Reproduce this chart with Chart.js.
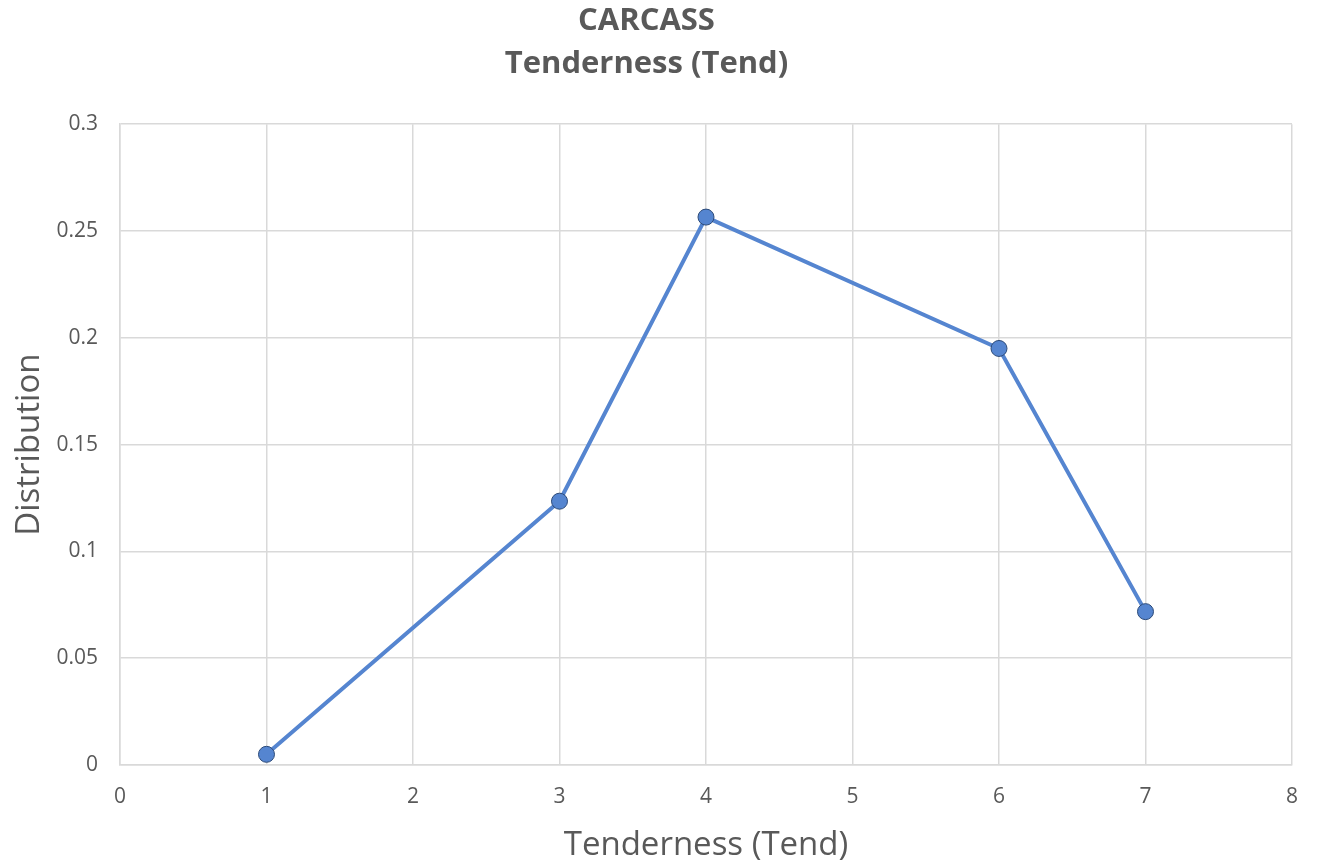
<!DOCTYPE html>
<html>
<head>
<meta charset="utf-8">
<title>CARCASS Tenderness (Tend)</title>
<script src="https://cdn.jsdelivr.net/npm/chart.js@4"></script>
<style>
  html, body { margin: 0; padding: 0; background: #ffffff; }
  #wrap { width: 1317px; height: 862px; position: relative; }
</style>
</head>
<body>
<div id="wrap"><canvas id="chart"></canvas></div>
<script>
// Tenderness score and its share of carcasses
const tenderScores = [1, 3, 4, 6, 7];
const distribution = [0.005, 0.1235, 0.2565, 0.195, 0.0718];

// Axis tick labels
const xTickLabels = ['0', '1', '2', '3', '4', '5', '6', '7', '8'];
const yTickLabels = ['0', '0.05', '0.1', '0.15', '0.2', '0.25', '0.3'];

const titleLines = ['CARCASS', 'Tenderness (Tend)'];
const xAxisTitle = 'Tenderness (Tend)';
const yAxisTitle = 'Distribution';

const points = tenderScores.map((x, i) => ({ x: x, y: distribution[i] }));

const textGray = '#595959';
const gridGray = '#d9d9d9';
const fontFamily = '"Open Sans", "Noto Sans", sans-serif';

new Chart(document.getElementById('chart'), {
  type: 'scatter',
  data: {
    datasets: [{
      data: points,
      showLine: true,
      borderColor: '#5585d0',
      borderWidth: 4,
      pointRadius: 8,
      pointHoverRadius: 8,
      pointBackgroundColor: '#5585d0',
      pointBorderColor: '#2c4a78',
      pointBorderWidth: 1
    }]
  },
  options: {
    responsive: true,
    maintainAspectRatio: false,
    animation: false,
    layout: { padding: { left: 0, right: 24, top: 0, bottom: 0 } },
    plugins: {
      legend: { display: false },
      tooltip: { enabled: false },
      title: {
        display: true,
        text: titleLines,
        color: textGray,
        font: { family: fontFamily, size: 31, weight: 'bold', lineHeight: 1.39 },
        padding: { top: 0, bottom: 38 }
      }
    },
    scales: {
      x: {
        type: 'linear',
        min: 0,
        max: 8,
        afterFit: (s) => { s.height = 97; },
        ticks: {
          stepSize: 1,
          padding: 19,
          color: textGray,
          font: { family: fontFamily, size: 21 },
          callback: (v) => xTickLabels[Math.round(v)]
        },
        grid: { color: gridGray, lineWidth: 1.5, drawTicks: false },
        border: { color: gridGray, width: 1.5 },
        title: {
          display: true,
          text: xAxisTitle,
          color: textGray,
          font: { family: fontFamily, size: 33, lineHeight: 1.0 },
          padding: { top: 0, bottom: 0 }
        }
      },
      y: {
        min: 0,
        max: 0.3,
        afterFit: (s) => { s.width = 120; },
        ticks: {
          stepSize: 0.05,
          padding: 22,
          color: textGray,
          font: { family: fontFamily, size: 21 },
          callback: (v) => yTickLabels[Math.round(v / 0.05)]
        },
        grid: { color: gridGray, lineWidth: 1.5, drawTicks: false },
        border: { color: gridGray, width: 1.5 },
        title: {
          display: true,
          text: yAxisTitle,
          color: textGray,
          font: { family: fontFamily, size: 33, lineHeight: 1.0 },
          padding: { top: 13, bottom: 0 }
        }
      }
    }
  }
});
</script>
</body>
</html>
